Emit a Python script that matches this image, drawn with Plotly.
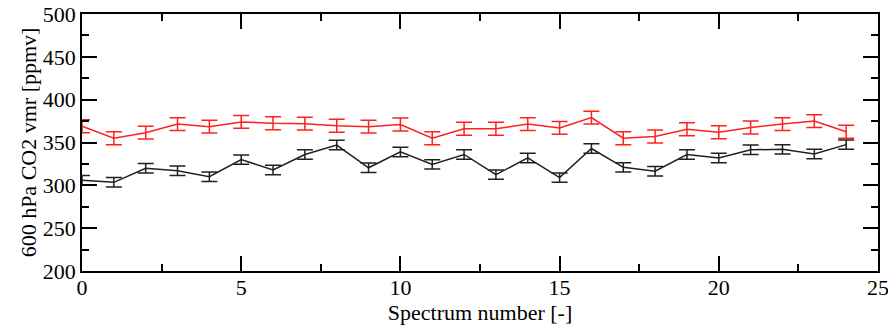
import plotly.graph_objects as go

spectrum = list(range(25))
red_vals = [369, 355, 361.5, 371.5, 368.5, 374, 372.5, 372, 369.5, 368.5, 371, 355, 366, 366,
            371.5, 367, 379, 355, 357, 365.5, 362, 367.5, 371.5, 375, 362.5]
red_err = [7.5] * 25
black_vals = [306, 303.5, 320, 317, 310, 330, 318, 336, 347, 320.5, 339, 324.5, 336, 312.5,
              332, 309, 343, 321, 316.5, 336, 332, 341.5, 342, 336.5, 347.5]
black_err = [5.5] * 25

fig = go.Figure()
fig.add_trace(go.Scatter(
    x=spectrum, y=red_vals, mode="lines",
    line=dict(color="#ff2020", width=1.5),
    error_y=dict(type="data", array=red_err, visible=True, color="#ff2020", thickness=1.5, width=8),
    showlegend=False))
fig.add_trace(go.Scatter(
    x=spectrum, y=black_vals, mode="lines",
    line=dict(color="#202020", width=1.5),
    error_y=dict(type="data", array=black_err, visible=True, color="#202020", thickness=1.5, width=8),
    showlegend=False))

font = dict(family="Liberation Serif", size=22, color="black")
title_font = dict(family="Liberation Serif", size=22, color="black")
fig.update_layout(
    width=888, height=327,
    margin=dict(l=82, r=10, t=14, b=56),
    paper_bgcolor="white", plot_bgcolor="white",
    font=font,
)
fig.update_xaxes(
    range=[0, 25], dtick=5, tick0=0, ticks="inside", ticklen=15, tickwidth=1.5, tickcolor="black",
    minor=dict(dtick=2.5, ticks="inside", ticklen=7, tickwidth=1.5, tickcolor="black"),
    showline=True, linecolor="black", linewidth=1.5, mirror="allticks",
    showgrid=False, zeroline=False, automargin=False,
    ticklabeloverflow="allow", ticklabelstandoff=-4,
    title=dict(text="Spectrum number [-]", standoff=0, font=title_font),
)
fig.update_yaxes(
    range=[200, 500], dtick=50, tick0=200, ticks="inside", ticklen=15, tickwidth=1.5, tickcolor="black",
    minor=dict(dtick=25, ticks="inside", ticklen=7, tickwidth=1.5, tickcolor="black"),
    showline=True, linecolor="black", linewidth=1.5, mirror="allticks",
    showgrid=False, zeroline=False, automargin=False,
    ticklabeloverflow="allow",
    title=dict(text="600 hPa CO2 vmr [ppmv]", standoff=0, font=title_font),
)
fig.write_html("out.html", config={"displayModeBar": False},
               post_script="document.body.style.margin='0';document.body.style.overflow='hidden';")
